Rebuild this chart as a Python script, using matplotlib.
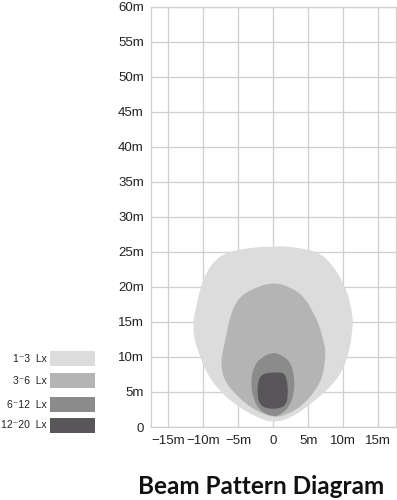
#!/usr/bin/env python3
# beam pattern diagram: iso-lux zones of a work light, seen from above

import matplotlib

matplotlib.use("Agg")
import matplotlib.pyplot as plt
from matplotlib.patches import PathPatch, Rectangle
from matplotlib.path import Path

# zone outlines in metres (x = sideways, y = distance ahead)
zone_13_x = [0, -5.5, -7.9, -9.6, -10.5, -11.0, -11.5, -11.3, -10.8, -9.8, -7.9, -5.1, -2.2, 0,
             2.6, 5.5, 8.3, 10.0, 10.9, 11.3, 11.4, 10.9, 10.0, 8.6, 6.9, 4.5]
zone_13_y = [25.9, 25.3, 24.3, 22.1, 19.6, 17.2, 15.0, 12.5, 11.0, 8.2, 5.3, 2.9, 1.3, 0.6,
             1.3, 3.4, 5.8, 8.2, 11.0, 13.9, 15.3, 18.2, 20.6, 22.9, 24.7, 25.5]

zone_36_x = [0, -3.1, -5.1, -6.2, -6.7, -7.2, -7.5, -7.1, -5.1, -2.7, 0,
             2.1, 4.5, 6.4, 7.2, 7.5, 7.2, 6.6, 5.7, 4.5, 2.6]
zone_36_y = [20.7, 19.7, 18.3, 15.8, 13.2, 11.0, 9.0, 6.7, 4.3, 2.4, 1.3,
             1.8, 3.3, 5.8, 7.7, 11.0, 12.0, 14.5, 16.3, 18.5, 19.9]

zone_612_x = [0, -1.8, -2.8, -3.2, -3.0, -2.0, 0, 0.7, 2.2, 3.0, 3.0, 2.5, 1.3]
zone_612_y = [10.7, 9.9, 8.6, 6.7, 4.4, 2.3, 1.5, 1.6, 2.7, 4.8, 7.2, 9.2, 10.2]

zone_1220_x = [0, -1.6, -2.2, -2.3, -1.9, -0.8, 0.7, 1.8, 2.1, 2.0, 1.5]
zone_1220_y = [7.8, 7.6, 6.6, 4.4, 3.1, 2.6, 2.6, 3.1, 4.4, 6.7, 7.8]

zone_labels = ["1\u207b3  Lx", "3\u207b6  Lx", "6\u207b12  Lx", "12\u207b20  Lx"]
zone_colors = ["#dcdcdc", "#b4b4b4", "#8b8b8b", "#59565a"]

x_ticks = [-15, -10, -5, 0, 5, 10, 15]
x_tick_labels = ["\u221215m", "\u221210m", "\u22125m", "0", "5m", "10m", "15m"]
y_ticks = list(range(0, 61, 5))
y_tick_labels = ["0"] + ["%dm" % v for v in y_ticks[1:]]


def smooth_outline(xs, ys):
    """closed quadratic B-spline path, read points used as control points"""
    pts = list(zip(xs, ys))
    n = len(pts)
    mids = [((pts[i][0] + pts[(i + 1) % n][0]) / 2, (pts[i][1] + pts[(i + 1) % n][1]) / 2)
            for i in range(n)]
    verts = [mids[-1]]
    codes = [Path.MOVETO]
    for i in range(n):
        verts += [pts[i], mids[i]]
        codes += [Path.CURVE3, Path.CURVE3]
    return Path(verts, codes)


fig = plt.figure(figsize=(3.97, 5.0), dpi=100)
ax = fig.add_axes([0.380, 0.146, 0.617, 0.841])

zones = [
    (zone_13_x, zone_13_y),
    (zone_36_x, zone_36_y),
    (zone_612_x, zone_612_y),
    (zone_1220_x, zone_1220_y),
]
for (zx, zy), col in zip(zones, zone_colors):
    ax.add_patch(PathPatch(smooth_outline(zx, zy), facecolor=col,
                           edgecolor="none", zorder=2))

ax.set_xlim(-17.5, 17.5)
ax.set_ylim(0, 60)
ax.set_xticks(x_ticks)
ax.set_xticklabels(x_tick_labels)
ax.set_yticks(y_ticks)
ax.set_yticklabels(y_tick_labels)
ax.tick_params(length=0, labelsize=9.5, labelcolor="#222222")
ax.tick_params(axis="x", pad=6)
ax.tick_params(axis="y", pad=5)
for lab in ax.get_xticklabels() + ax.get_yticklabels():
    lab.set_family("Liberation Sans")
ax.grid(True, color="#cfcfcf", linewidth=0.9, zorder=0)
ax.set_axisbelow(True)
for sp in ax.spines.values():
    sp.set_color("#cfcfcf")
    sp.set_linewidth(0.9)

# legend drawn by hand so the labels can sit right-aligned
lax = fig.add_axes([0, 0, 1, 1])
lax.set_xlim(0, 397)
lax.set_ylim(500, 0)
lax.axis("off")
row_top = [351, 373, 397, 418]
for top, lab, col in zip(row_top, zone_labels, zone_colors):
    lax.add_patch(Rectangle((50, top), 45, 15, facecolor=col, edgecolor="none"))
    lax.text(47, top + 7.5, lab, ha="right", va="center", fontsize=7.5,
             family=["Liberation Sans", "DejaVu Sans"], color="#222222")

fig.text(0.657, 0.026, "Beam Pattern Diagram", ha="center", va="center",
         fontsize=17.5, fontweight="bold", family="Lato", color="#111111")

fig.savefig("out.png", dpi=100)
